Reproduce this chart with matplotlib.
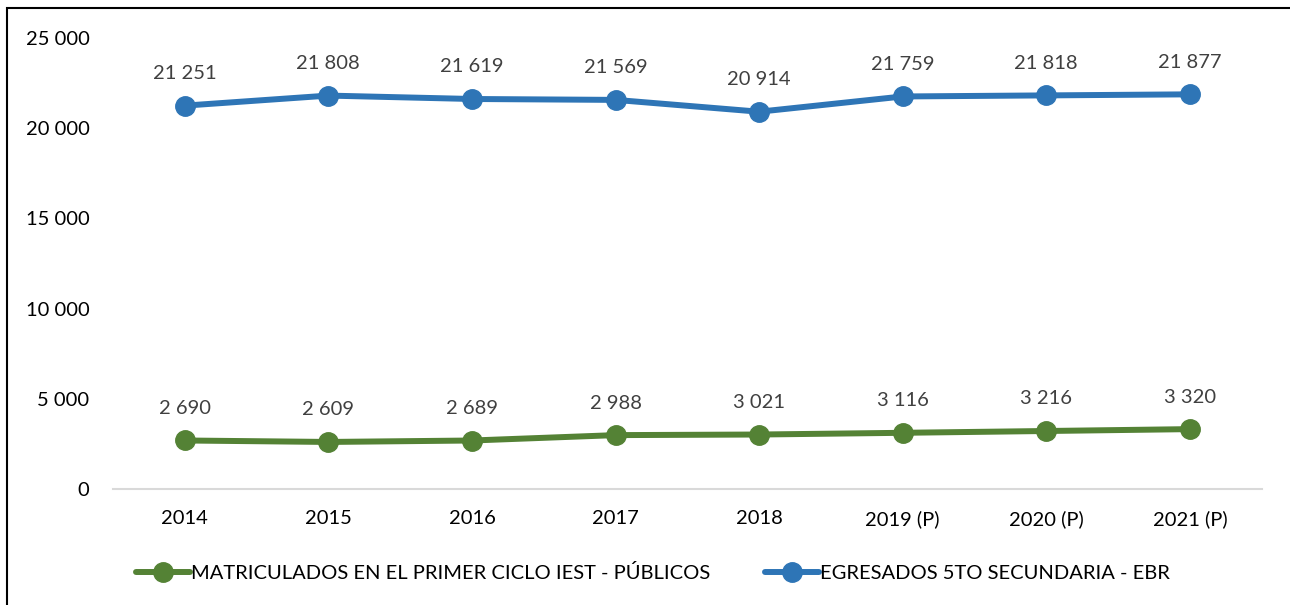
import matplotlib.pyplot as plt
from matplotlib.patches import Rectangle

# data
years = ['2014', '2015', '2016', '2017', '2018', '2019 (P)', '2020 (P)', '2021 (P)']
matriculados = [2690, 2609, 2689, 2988, 3021, 3116, 3216, 3320]
egresados = [21251, 21808, 21619, 21569, 20914, 21759, 21818, 21877]

green = '#548235'
blue = '#2E75B6'

plt.rcParams['font.family'] = ['Lato', 'DejaVu Sans']


def fmt(v):
    return f'{v:,}'.replace(',', ' ')


fig = plt.figure(figsize=(12.9, 6.05), dpi=100)
ax = fig.add_axes([0.0876, 0.1917, 0.8904, 0.7455])

x = range(len(years))
ax.plot(x, matriculados, color=green, lw=4.3, marker='o', ms=14,
        label='MATRICULADOS EN EL PRIMER CICLO IEST - PÚBLICOS', solid_capstyle='round')
ax.plot(x, egresados, color=blue, lw=4.3, marker='o', ms=14,
        label='EGRESADOS 5TO SECUNDARIA - EBR', solid_capstyle='round')

for xi, v in zip(x, matriculados):
    ax.annotate(fmt(v), (xi, v), xytext=(0, 17), textcoords='offset points',
                ha='center', va='bottom', fontsize=14.5, color='#404040')
for xi, v in zip(x, egresados):
    ax.annotate(fmt(v), (xi, v), xytext=(0, 17), textcoords='offset points',
                ha='center', va='bottom', fontsize=14.5, color='#404040')

ax.set_xlim(-0.5, len(years) - 0.5)
ax.set_ylim(0, 25000)
ax.set_yticks(range(0, 25001, 5000))
ax.set_yticklabels([fmt(t) for t in range(0, 25001, 5000)], fontsize=14.5)
ax.set_xticks(list(x))
ax.set_xticklabels(years, fontsize=14.5)
ax.tick_params(length=0)
ax.tick_params(axis='x', pad=15)
ax.tick_params(axis='y', pad=17)
for s in ['top', 'right', 'left']:
    ax.spines[s].set_visible(False)
ax.spines['bottom'].set_color('#D9D9D9')
ax.spines['bottom'].set_linewidth(1.5)

leg = ax.legend(loc='center', bbox_to_anchor=(0.47, -0.187), ncol=2, frameon=False,
                fontsize=14.5, handlelength=2.7, handletextpad=0.05, columnspacing=2.7)

fig.patches.append(Rectangle((0.0054, -0.1), 1.1, 1.0868, transform=fig.transFigure,
                             fill=False, ec='black', lw=1.5, clip_on=False))

plt.savefig('out.png', dpi=100)
